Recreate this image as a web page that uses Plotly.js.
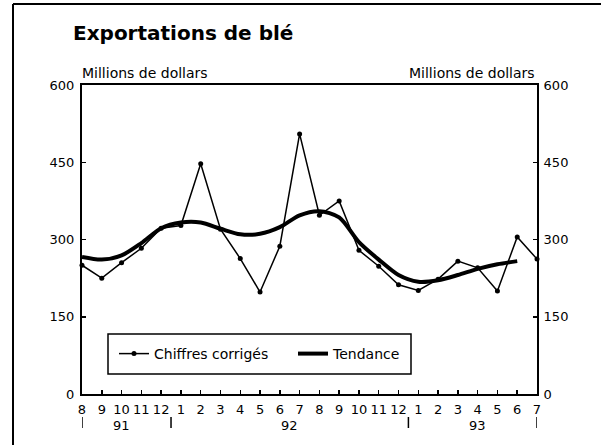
<!DOCTYPE html>
<html>
<head>
<meta charset="utf-8">
<script src="https://cdn.plot.ly/plotly-3.0.1.min.js"></script>
<style>
  html, body { margin: 0; padding: 0; background: #fff; }
  #chart { width: 601px; height: 445px; }
</style>
</head>
<body>
<div id="chart"></div>
<script>
// Months from August 1991 to July 1993
const monthLabels = ['8','9','10','11','12','1','2','3','4','5','6','7','8','9','10','11','12','1','2','3','4','5','6','7'];
// Seasonally adjusted figures (millions of dollars)
const chiffresCorriges = [250, 225, 255, 283, 322, 327, 447, 320, 263, 198, 287, 505, 347, 375, 279, 248, 212, 201, 223, 258, 245, 200, 305, 262];
// Trend-cycle (Aug 1991 - Jun 1993)
const tendance = [266, 261, 269, 293, 322, 333, 333, 321, 310, 311, 324, 347, 355, 343, 295, 261, 231, 218, 221, 231, 243, 252, 258];
// Year labels and their positions (month index)
const yearLabels = ['91', '92', '93'];
const yearPos = [2, 10.5, 20];
// Year separators (month index)
const yearSeparators = [0, 4.5, 16.5, 23];
const yTicks = [0, 150, 300, 450, 600];

const idx = monthLabels.map((_, i) => i);
const idxTrend = tendance.map((_, i) => i);

const FONT = 'DejaVu Sans, Verdana, sans-serif';

const traces = [
  {
    x: idx, y: chiffresCorriges, name: 'Chiffres corrigés',
    type: 'scatter', mode: 'lines+markers',
    line: { color: '#000', width: 1.5 },
    marker: { color: '#000', size: 5, symbol: 'circle' },
    cliponaxis: false, hoverinfo: 'skip'
  },
  {
    x: idxTrend, y: tendance, name: 'Tendance',
    type: 'scatter', mode: 'lines',
    line: { color: '#000', width: 4, shape: 'spline', smoothing: 0.8 },
    cliponaxis: false, hoverinfo: 'skip'
  },
  {
    x: idx, y: chiffresCorriges, yaxis: 'y2', type: 'scatter', mode: 'lines',
    line: { color: 'rgba(0,0,0,0)', width: 0 }, showlegend: false, hoverinfo: 'skip'
  }
];

const shapes = [
  // outer frame (left and top)
  { type: 'line', xref: 'paper', yref: 'paper', x0: -69/455, x1: -69/455, y0: 1 + 81/309, y1: -51/309, line: { color: '#000', width: 2 } },
  { type: 'line', xref: 'paper', yref: 'paper', x0: -69/455, x1: 519/455, y0: 1 + 81/309, y1: 1 + 81/309, line: { color: '#000', width: 2 } },
  // legend box
  { type: 'rect', xref: 'paper', yref: 'paper', x0: 26/455, x1: 329/455, y0: 20/309, y1: 60/309, line: { color: '#000', width: 1.5 }, fillcolor: '#fff', layer: 'below' }
];
yearSeparators.forEach(p => {
  shapes.push({ type: 'line', xref: 'x', yref: 'paper', x0: p, x1: p, y0: -23/309, y1: -34/309, line: { color: '#000', width: 1.5 } });
});

const annotations = [
  { text: 'Millions de dollars', xref: 'paper', yref: 'paper', x: -2/455, y: 1 + 12/309, xanchor: 'left', yanchor: 'middle', showarrow: false, font: { family: FONT, size: 14, color: '#000' } },
  { text: 'Millions de dollars', xref: 'paper', yref: 'paper', x: 1, y: 1 + 12/309, xanchor: 'right', yanchor: 'middle', showarrow: false, font: { family: FONT, size: 14, color: '#000' } }
];
yearLabels.forEach((t, i) => {
  annotations.push({ text: t, xref: 'x', yref: 'paper', x: yearPos[i], y: -31/309, xanchor: 'center', yanchor: 'middle', showarrow: false, font: { family: FONT, size: 13, color: '#000' } });
});

const layout = {
  width: 601, height: 445,
  margin: { l: 82, r: 64, t: 85, b: 51, pad: 0 },
  paper_bgcolor: '#fff', plot_bgcolor: '#fff',
  font: { family: FONT, color: '#000', size: 13 },
  title: {
    text: '<b>Exportations de blé</b>',
    font: { family: 'DejaVu Sans, Verdana, sans-serif', size: 20, color: '#000' },
    xref: 'container', yref: 'container', x: 73/601, xanchor: 'left', y: 1 - 33/445, yanchor: 'middle'
  },
  xaxis: {
    range: [0, 23], tickvals: idx, ticktext: monthLabels,
    showgrid: false, zeroline: false, showline: true, linecolor: '#000', linewidth: 2,
    mirror: true, ticks: 'inside', ticklen: 4, tickwidth: 1.5, tickcolor: '#000',
    ticklabelstandoff: 2, tickfont: { family: FONT, size: 13, color: '#000' }, fixedrange: true
  },
  yaxis: {
    range: [0, 600], tickvals: yTicks, ticktext: yTicks.map(String),
    showgrid: false, zeroline: false, showline: true, linecolor: '#000', linewidth: 2,
    mirror: true, ticks: 'inside', ticklen: 4, tickwidth: 1.5, tickcolor: '#000',
    ticklabelstandoff: 3, tickfont: { family: FONT, size: 13, color: '#000' }, fixedrange: true
  },
  yaxis2: {
    overlaying: 'y', side: 'right', range: [0, 600], tickvals: yTicks, ticktext: yTicks.map(String),
    showgrid: false, zeroline: false, showline: true, linecolor: '#000', linewidth: 2,
    ticks: 'inside', ticklen: 4, tickwidth: 1.5, tickcolor: '#000',
    ticklabelstandoff: 2, tickfont: { family: FONT, size: 13, color: '#000' }, fixedrange: true
  },
  legend: {
    orientation: 'h', x: 32/455, y: 40/309, xanchor: 'left', yanchor: 'middle',
    bgcolor: 'rgba(0,0,0,0)', borderwidth: 0,
    font: { family: FONT, size: 14, color: '#000' },
    entrywidth: 134, entrywidthmode: 'pixels', itemwidth: 30
  },
  shapes: shapes,
  annotations: annotations,
  showlegend: true
};

Plotly.newPlot('chart', traces, layout, { displayModeBar: false, staticPlot: true });
</script>
</body>
</html>
